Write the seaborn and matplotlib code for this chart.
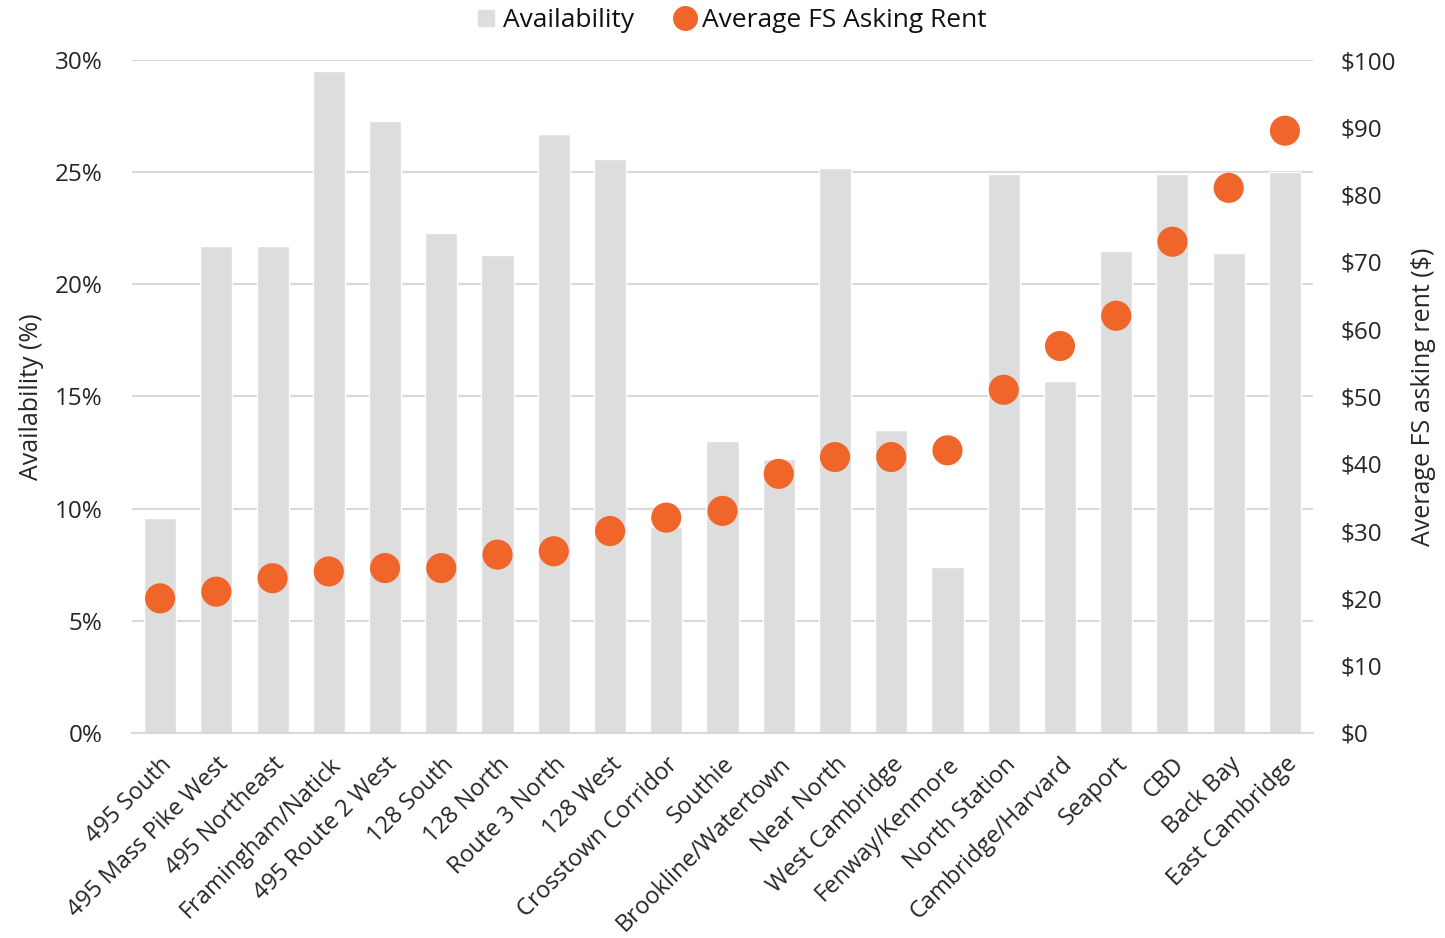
import numpy as np
import pandas as pd
import seaborn as sns
import matplotlib.pyplot as plt
from matplotlib.ticker import FuncFormatter
from matplotlib.lines import Line2D

submarkets = [
    "495 South", "495 Mass Pike West", "495 Northeast", "Framingham/Natick",
    "495 Route 2 West", "128 South", "128 North", "Route 3 North", "128 West",
    "Crosstown Corridor", "Southie", "Brookline/Watertown", "Near North",
    "West Cambridge", "Fenway/Kenmore", "North Station", "Cambridge/Harvard",
    "Seaport", "CBD", "Back Bay", "East Cambridge",
]
availability = [
    9.6, 21.7, 21.7, 29.5, 27.3, 22.3, 21.3, 26.7, 25.6, 9.2, 13.0,
    12.2, 25.2, 13.5, 7.4, 24.9, 15.7, 21.5, 24.9, 21.4, 25.0,
]
asking_rent = [
    20.0, 21.0, 23.0, 24.0, 24.5, 24.5, 26.5, 27.0, 30.0, 32.0, 33.0,
    38.5, 41.0, 41.0, 42.0, 51.0, 57.5, 62.0, 73.0, 81.0, 89.5,
]

df = pd.DataFrame({"submarket": submarkets, "availability": availability,
                   "rent": asking_rent})

BAR = "#DDDDDD"
DOT = "#F0662A"
GRID = "#D9D9D9"

sns.set_style("white")
plt.rcParams["font.family"] = ["Open Sans", "DejaVu Sans"]
plt.rcParams["text.color"] = "#111111"

fig = plt.figure(figsize=(14.45, 9.38), dpi=100)
ax = fig.add_axes([0.0913, 0.2186, 0.8174, 0.7174])

sns.barplot(data=df, x="submarket", y="availability", color=BAR,
            width=0.57, ax=ax, zorder=2, saturation=1)
ax.set_ylim(0, 30)
ax.set_yticks(np.arange(0, 31, 5))
ax.yaxis.set_major_formatter(FuncFormatter(lambda v, p: f"{v:.0f}%"))
ax.grid(axis="y", color=GRID, linewidth=1.5, zorder=0)
ax.set_axisbelow(True)
ax.set_xlim(-0.5, len(submarkets) - 0.5)
ax.set_xlabel("")
ax.set_ylabel("Availability (%)", fontsize=18, labelpad=8)
ax.tick_params(axis="y", labelsize=17.5, length=0, pad=21)
ax.tick_params(axis="x", labelsize=17, length=0, pad=14)
for lab in ax.get_xticklabels():
    lab.set_rotation(45)
    lab.set_ha("right")
    lab.set_rotation_mode("anchor")
for s in ["top", "left", "right"]:
    ax.spines[s].set_visible(False)
ax.spines["bottom"].set_color(GRID)
ax.spines["bottom"].set_linewidth(1.5)

ax2 = ax.twinx()
sns.scatterplot(data=df, x="submarket", y="rent", color=DOT, s=470,
                edgecolor="none", ax=ax2, zorder=3)
ax2.set_ylim(0, 100)
ax2.set_yticks(np.arange(0, 101, 10))
ax2.yaxis.set_major_formatter(FuncFormatter(lambda v, p: f"${v:.0f}"))
ax2.set_ylabel("Average FS asking rent ($)", fontsize=18, labelpad=11)
ax2.tick_params(axis="y", labelsize=17.5, length=0, pad=19.5)
for s in ["top", "left", "right", "bottom"]:
    ax2.spines[s].set_visible(False)
ax2.set_xlabel("")

handles = [
    Line2D([], [], marker="s", linestyle="none", color=BAR, markersize=12),
    Line2D([], [], marker="o", linestyle="none", color=DOT, markersize=17),
]
fig.legend(handles, ["Availability", "Average FS Asking Rent"],
           loc="center", bbox_to_anchor=(0.505, 0.978), ncol=2, frameon=False,
           fontsize=19, handlelength=1.0, handletextpad=0.15,
           columnspacing=1.4)

fig.savefig("out.png", dpi=100)
